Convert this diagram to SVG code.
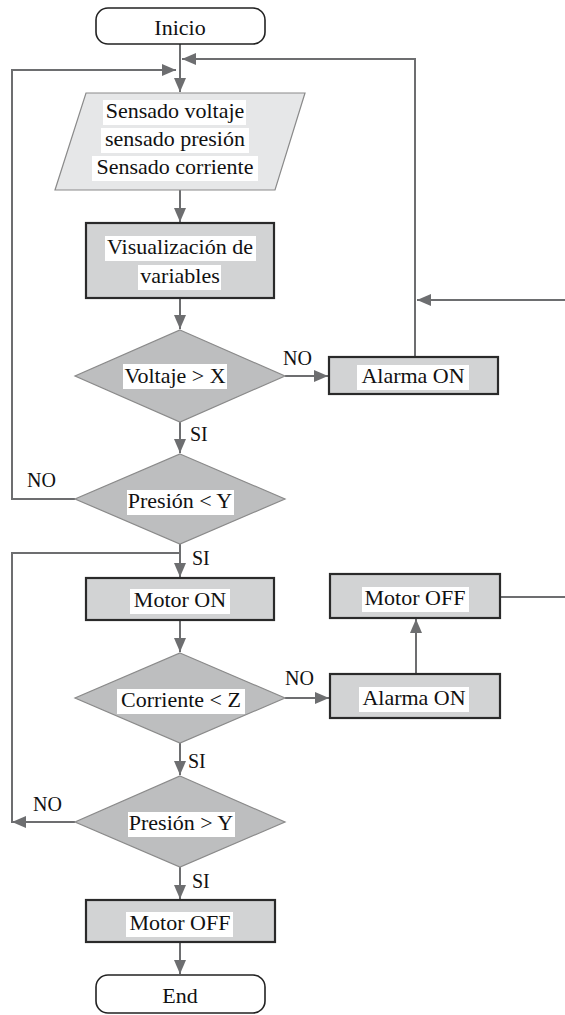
<svg xmlns="http://www.w3.org/2000/svg" width="565" height="1015" viewBox="0 0 565 1015" font-family="'Liberation Serif', 'DejaVu Serif', serif">
<style>
text{font-family:"Liberation Serif","DejaVu Serif",serif;font-size:22px;fill:#111;text-anchor:middle}
.lbl{text-anchor:start;font-size:20px}
.term{fill:#fff;stroke:#222;stroke-width:1.6}
.proc{fill:#d2d3d4;stroke:#2a2a2a;stroke-width:2.2}
.dec{fill:#bdbebf;stroke:#8a8a8a;stroke-width:1.2}
.io{fill:#e6e7e8;stroke:#8a8a8a;stroke-width:1.2}
.hl{fill:#fff}
.c{fill:none;stroke:#6d6e70;stroke-width:2}
</style>
<defs>
<marker id="ah" markerUnits="userSpaceOnUse" markerWidth="16" markerHeight="12" refX="14" refY="6" orient="auto">
<path d="M0 0 L14 6 L0 12 Z" fill="#6d6e70"/>
</marker>
</defs>
<g id="connectors">
<path class="c" d="M180 44 V92" marker-end="url(#ah)"/>
<path class="c" d="M180 190 V222" marker-end="url(#ah)"/>
<path class="c" d="M180 298 V329" marker-end="url(#ah)"/>
<path class="c" d="M285 376 H328" marker-end="url(#ah)"/>
<path class="c" d="M180 422 V453" marker-end="url(#ah)"/>
<path class="c" d="M75 499 H12 V70 H176" marker-end="url(#ah)"/>
<path class="c" d="M415 357 V59 H182" marker-end="url(#ah)"/>
<path class="c" d="M565 300 H417" marker-end="url(#ah)"/>
<path class="c" d="M180 544 V577" marker-end="url(#ah)"/>
<path class="c" d="M12 823 V553 H180"/>
<path class="c" d="M75 822 H12" marker-end="url(#ah)"/>
<path class="c" d="M180 620 V652" marker-end="url(#ah)"/>
<path class="c" d="M285 698 H329" marker-end="url(#ah)"/>
<path class="c" d="M416 674 V619" marker-end="url(#ah)"/>
<path class="c" d="M500 597 H565"/>
<path class="c" d="M180 743 V775" marker-end="url(#ah)"/>
<path class="c" d="M180 867 V899" marker-end="url(#ah)"/>
<path class="c" d="M180 942 V974" marker-end="url(#ah)"/>
<text class="lbl" x="283" y="365">NO</text>
<text class="lbl" x="190" y="441">SI</text>
<text class="lbl" x="27" y="487">NO</text>
<text class="lbl" x="192" y="565">SI</text>
<text class="lbl" x="285" y="685">NO</text>
<text class="lbl" x="188" y="768">SI</text>
<text class="lbl" x="33" y="811">NO</text>
<text class="lbl" x="192" y="888">SI</text>
</g>
<g id="inicio">
<rect class="term" x="96" y="8" width="169" height="36" rx="12"/>
<text x="180" y="35">Inicio</text>
</g>
<g id="sensado">
<polygon class="io" points="86,93 305,93 275,190 55,190"/>
<rect class="hl" x="103" y="100" width="143" height="25"/>
<rect class="hl" x="101" y="128" width="148" height="25"/>
<rect class="hl" x="92" y="156" width="166" height="25"/>
<text x="175" y="118">Sensado voltaje</text>
<text x="175" y="146">sensado presión</text>
<text x="175" y="174">Sensado corriente</text>
</g>
<g id="visualizacion">
<rect class="proc" x="86" y="223" width="188" height="75"/>
<rect class="hl" x="105" y="236" width="151" height="25"/>
<rect class="hl" x="138" y="265" width="83" height="25"/>
<text x="180" y="254">Visualización de</text>
<text x="180" y="283">variables</text>
</g>
<g id="d-voltaje">
<polygon class="dec" points="180,330 285,376 180,422 75,376"/>
<rect class="hl" x="123" y="364" width="104" height="25"/>
<text x="175" y="383">Voltaje &gt; X</text>
</g>
<g id="alarma1">
<rect class="proc" x="329" y="357" width="169" height="37"/>
<rect class="hl" x="357" y="365" width="112" height="25"/>
<text x="413" y="383">Alarma ON</text>
</g>
<g id="d-presion1">
<polygon class="dec" points="180,454 285,499 180,544 75,499"/>
<rect class="hl" x="127" y="490" width="107" height="25"/>
<text x="180" y="508">Presión &lt; Y</text>
</g>
<g id="motor-on">
<rect class="proc" x="86" y="578" width="188" height="42"/>
<rect class="hl" x="130" y="589" width="100" height="25"/>
<text x="180" y="607">Motor ON</text>
</g>
<g id="motor-off2">
<rect class="proc" x="330" y="574" width="170" height="44"/>
<rect class="hl" x="362" y="587" width="107" height="25"/>
<text x="415" y="605">Motor OFF</text>
</g>
<g id="d-corriente">
<polygon class="dec" points="180,653 285,698 180,743 75,698"/>
<rect class="hl" x="117" y="689" width="128" height="25"/>
<text x="181" y="707">Corriente &lt; Z</text>
</g>
<g id="alarma2">
<rect class="proc" x="330" y="674" width="170" height="44"/>
<rect class="hl" x="359" y="687" width="110" height="25"/>
<text x="414" y="705">Alarma ON</text>
</g>
<g id="d-presion2">
<polygon class="dec" points="180,776 285,822 180,867 75,822"/>
<rect class="hl" x="128" y="812" width="107" height="25"/>
<text x="181" y="830">Presión &gt; Y</text>
</g>
<g id="motor-off">
<rect class="proc" x="86" y="900" width="189" height="42"/>
<rect class="hl" x="126" y="912" width="107" height="25"/>
<text x="180" y="930">Motor OFF</text>
</g>
<g id="end">
<rect class="term" x="96" y="975" width="169" height="38" rx="12"/>
<text x="180" y="1003">End</text>
</g>
</svg>
